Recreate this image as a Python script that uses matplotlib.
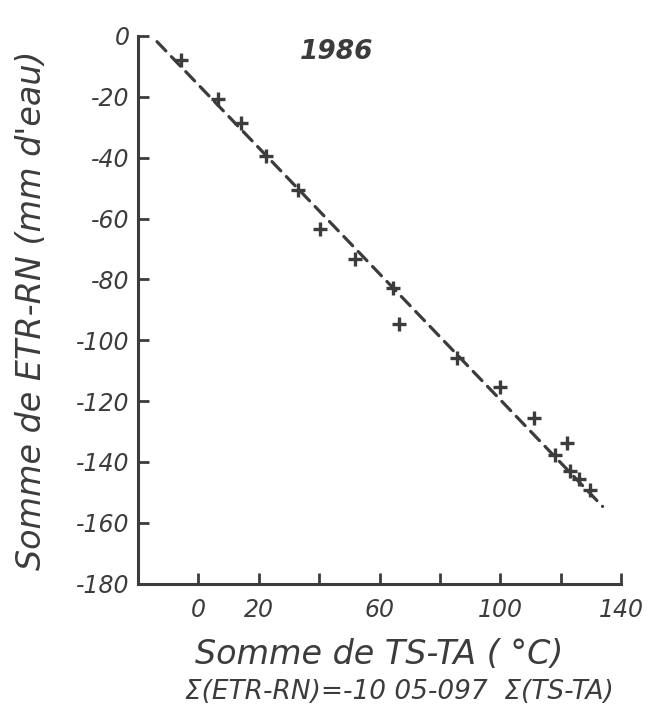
import matplotlib

matplotlib.use("Agg")
import matplotlib.pyplot as plt

# cumulative sums (1986 season)
sum_ts_ta = [-5.7, 6.4, 14.1, 22.4, 33.1, 40.2, 51.8, 64.5, 66.5, 85.6,
             99.8, 111.0, 121.9, 118.0, 122.9, 125.9, 129.5]
sum_etr_rn = [-7.9, -20.7, -28.5, -39.5, -50.7, -63.3, -73.4, -82.9, -94.7,
              -105.9, -115.5, -125.7, -133.9, -137.8, -142.8, -145.7, -149.3]

# ends of the hand-drawn regression line
fit_x = [-13.7, 133.8]
fit_y = [-1.9, -154.6]

x_ticks = [0, 20, 40, 60, 80, 100, 120, 140]
x_labels = ["0", "20", "", "60", "", "100", "", "140"]
y_ticks = [0, -20, -40, -60, -80, -100, -120, -140, -160, -180]
y_labels = ["0", "-20", "-40", "-60", "-80", "-100", "-120", "-140", "-160", "-180"]

ink = "#3c3c3c"
plt.rcParams["axes.unicode_minus"] = False
plt.rcParams["font.family"] = "DejaVu Sans"

fig = plt.figure(figsize=(6.54, 7.18), dpi=100)
ax = fig.add_axes([0.211, 0.187, 0.739, 0.763])

ax.plot(fit_x, fit_y, color=ink, lw=2.3, linestyle=(0, (4, 2.5)),
        dash_capstyle="round", zorder=1)
ax.plot(sum_ts_ta, sum_etr_rn, "+", color=ink, ms=10, mew=2.4, zorder=2)

ax.set_xlim(-20, 140)
ax.set_ylim(-180, 0)
ax.set_xticks(x_ticks, x_labels)
ax.set_yticks(y_ticks, y_labels)

for side in ("top", "right"):
    ax.spines[side].set_visible(False)
for side in ("left", "bottom"):
    ax.spines[side].set_linewidth(2.2)
    ax.spines[side].set_color(ink)

ax.tick_params(direction="in", length=8, width=2, color=ink, labelcolor=ink,
               labelsize=17)
ax.tick_params(axis="x", pad=10)
ax.tick_params(axis="y", pad=6)
for lab in ax.get_xticklabels() + ax.get_yticklabels():
    lab.set_style("italic")

ax.set_ylabel("Somme de ETR-RN (mm d'eau)", fontsize=24, style="italic",
              color=ink, labelpad=20)
ax.set_xlabel("Somme de TS-TA ( °C)", fontsize=24, style="italic",
              color=ink, labelpad=12)

ax.text(0.41, 0.97, "1986", transform=ax.transAxes, fontsize=19,
        style="italic", weight="bold", color=ink, ha="center", va="center")

fig.text(0.61, 0.036, "Σ(ETR-RN)=-10 05-097  Σ(TS-TA)", fontsize=19,
         style="italic", color=ink, ha="center", va="center")

fig.savefig("out.png", dpi=100, facecolor="white")
